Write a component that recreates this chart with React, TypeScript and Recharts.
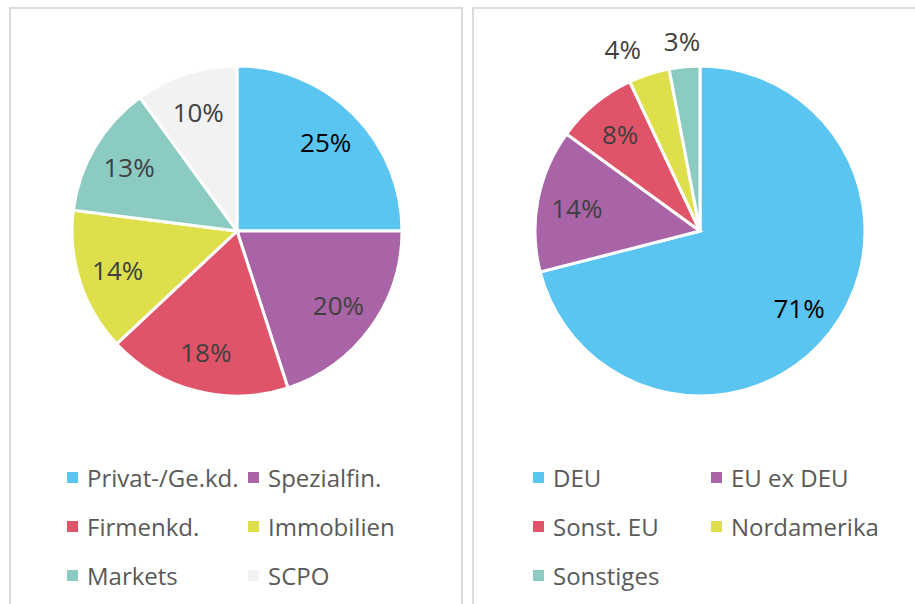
import { PieChart, Pie, Cell, Legend } from "recharts";

// Segments (left chart)
const segmentNames = ["Privat-/Ge.kd.", "Spezialfin.", "Firmenkd.", "Immobilien", "Markets", "SCPO"];
const segmentShares = [25, 20, 18, 14, 13, 10];

// Regions (right chart)
const regionNames = ["DEU", "EU ex DEU", "Sonst. EU", "Nordamerika", "Sonstiges"];
const regionShares = [71, 14, 8, 4, 3];

const COLORS = ["#5BC5F2", "#A864A6", "#E0546A", "#DDDF4B", "#8CCBC2", "#F2F2F2"];

const FONT = "'Open Sans', sans-serif";
const RADIAN = Math.PI / 180;

const segmentData = segmentNames.map((name, i) => ({ name, value: segmentShares[i] }));
const regionData = regionNames.map((name, i) => ({ name, value: regionShares[i] }));

const renderLabel = (props: any) => {
  const { cx, cy, midAngle, outerRadius, value, index } = props;
  const outside = value < 5;
  const r = outside ? outerRadius + 26 : outerRadius * 0.76;
  const cos = Math.cos(-midAngle * RADIAN);
  const x = cx + r * cos;
  const y = cy + r * Math.sin(-midAngle * RADIAN);
  let anchor = "middle";
  if (outside && cos < -0.25) anchor = "end";
  if (outside && cos > 0.25) anchor = "start";
  return (
    <text
      x={x}
      y={y}
      textAnchor={anchor}
      dominantBaseline="central"
      fill={index === 0 ? "#000" : "#404040"}
      fontSize={26}
      fontFamily={FONT}
    >
      {`${value}%`}
    </text>
  );
};

const makeLegend = (names: string[], colWidth: number) => () => (
  <div
    style={{
      display: "grid",
      gridTemplateColumns: `${colWidth}px ${colWidth}px`,
      gridAutoRows: "49px",
      fontFamily: FONT,
      fontSize: 24,
      color: "#595959",
    }}
  >
    {names.map((name, i) => (
      <div key={name} style={{ display: "flex", alignItems: "center", whiteSpace: "nowrap" }}>
        <span
          style={{
            display: "inline-block",
            width: 11,
            height: 11,
            background: COLORS[i],
            marginRight: 9,
          }}
        />
        {name}
      </div>
    ))}
  </div>
);

const panelStyle = (left: number, width: number) => ({
  position: "absolute" as const,
  left,
  top: 7,
  width,
  height: 640,
  boxSizing: "border-box" as const,
  border: "2px solid #dcdcdc",
  background: "#fff",
});

const noMargin = { top: 0, right: 0, bottom: 0, left: 0 };

const PieCharts = () => {
  return (
    <div
      style={{
        position: "absolute",
        left: 0,
        top: 0,
        width: 915,
        height: 604,
        overflow: "hidden",
        background: "#fff",
      }}
    >
      <div style={panelStyle(9, 454)}>
        <PieChart width={450} height={600} margin={noMargin}>
          <Pie
            data={segmentData}
            dataKey="value"
            nameKey="name"
            cx={226}
            cy={222}
            outerRadius={165}
            startAngle={90}
            endAngle={-270}
            stroke="#fff"
            strokeWidth={3}
            label={renderLabel}
            labelLine={false}
            isAnimationActive={false}
          >
            {segmentData.map((entry, index) => (
              <Cell key={`seg-${index}`} fill={COLORS[index % COLORS.length]} />
            ))}
          </Pie>
          <Legend
            content={makeLegend(segmentNames, 181)}
            wrapperStyle={{ left: 56, top: 444, width: 380 }}
          />
        </PieChart>
      </div>
      <div style={panelStyle(472, 460)}>
        <PieChart width={440} height={600} margin={noMargin}>
          <Pie
            data={regionData}
            dataKey="value"
            nameKey="name"
            cx={226}
            cy={222}
            outerRadius={165}
            startAngle={90}
            endAngle={-270}
            stroke="#fff"
            strokeWidth={3}
            label={renderLabel}
            labelLine={false}
            isAnimationActive={false}
          >
            {regionData.map((entry, index) => (
              <Cell key={`reg-${index}`} fill={COLORS[index % COLORS.length]} />
            ))}
          </Pie>
          <Legend
            content={makeLegend(regionNames, 178)}
            wrapperStyle={{ left: 59, top: 444, width: 380 }}
          />
        </PieChart>
      </div>
    </div>
  );
};

export default function App() {
  return <PieCharts />;
}
